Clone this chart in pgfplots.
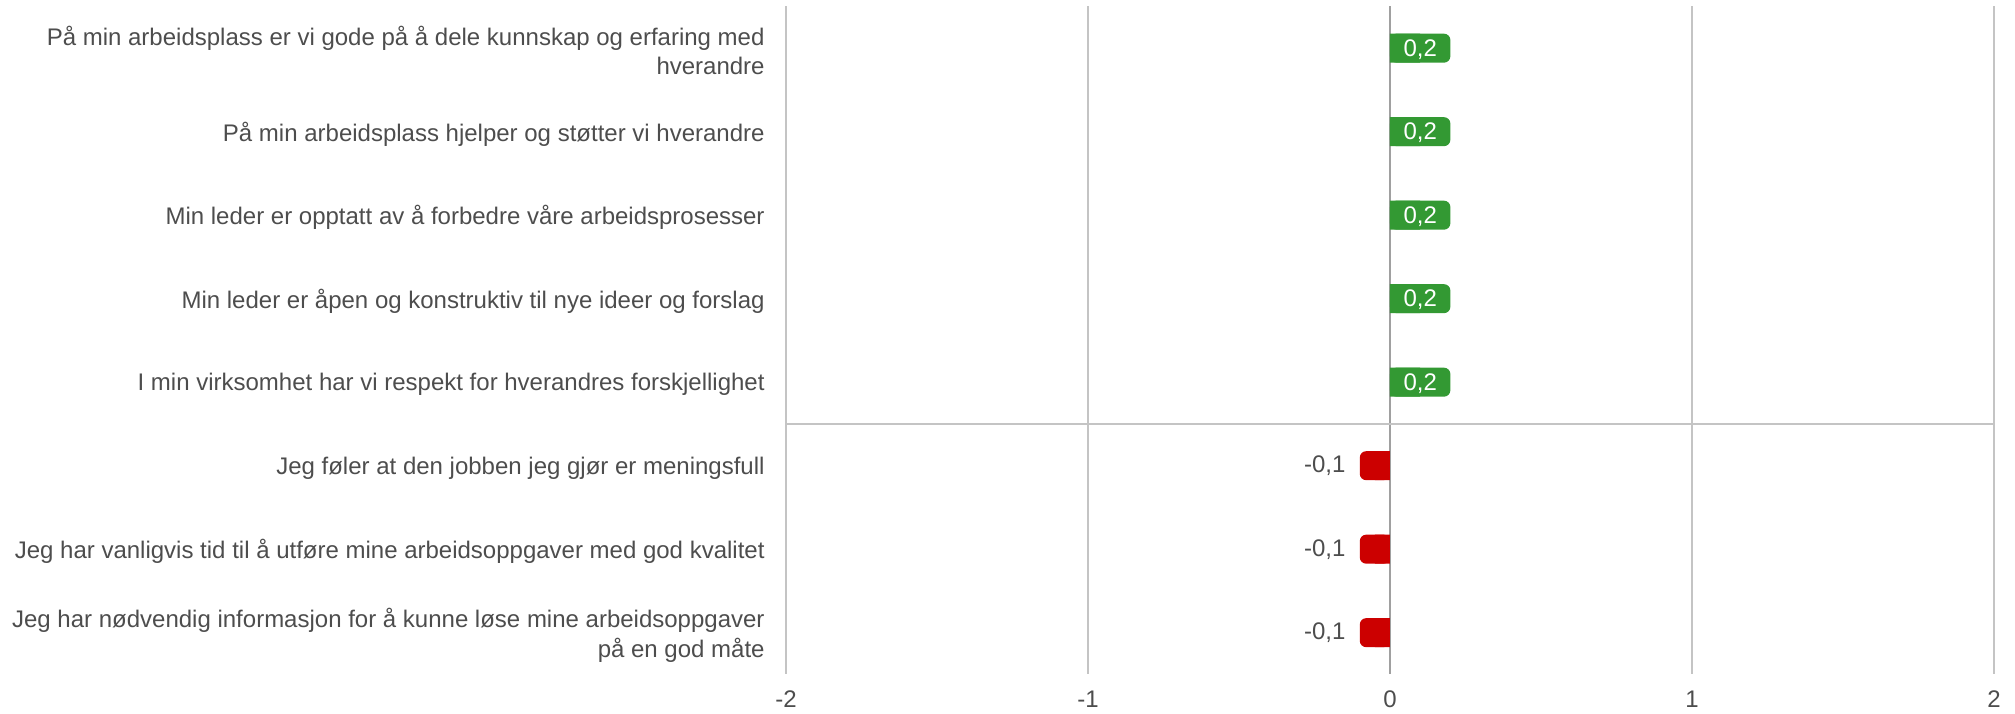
\documentclass[border=0pt]{standalone}
\usepackage{fontspec}
\setmainfont{Liberation Sans}
\usepackage{pgfplots}
\usepackage{pgfplotstable}
\pgfplotsset{compat=1.18}

\definecolor{barGreen}{HTML}{339933}
\definecolor{barRed}{HTML}{CC0000}
\definecolor{txtGrey}{HTML}{4D4D4D}
\definecolor{gridGrey}{HTML}{C4C4C4}
\definecolor{zeroGrey}{HTML}{A0A0A0}

% rows 0..7 from top to bottom
\pgfplotstableread{
y x lbl
0 0.2 0,2
1 0.2 0,2
2 0.2 0,2
3 0.2 0,2
4 0.2 0,2
}\pos
% inner half of the green bars: square end at the zero line, label in the middle
\pgfplotstableread{
y x lbl
0 0.1 0,2
1 0.1 0,2
2 0.1 0,2
3 0.1 0,2
4 0.1 0,2
}\poshalf
\pgfplotstableread{
y x lbl
5 -0.1 -0,1
6 -0.1 -0,1
7 -0.1 -0,1
}\negv
\pgfplotstableread{
y x lbl
5 -0.05 -0,1
6 -0.05 -0,1
7 -0.05 -0,1
}\neghalf

\begin{document}
\begin{tikzpicture}
\useasboundingbox (-393pt,-19.3pt) rectangle (614.5pt,337.2pt);
\begin{axis}[
    at={(0,0)}, anchor=south west,
    scale only axis,
    width=604pt, height=334pt,
    xmin=-2, xmax=2,
    ymin=-0.5, ymax=7.5,
    y dir=reverse,
    axis line style={draw=none},
    major tick length=0pt,
    xtick={-2,-1,1,2},
    xticklabels={-2,-1,1,2},
    extra x ticks={0},
    extra x tick labels={0},
    extra x tick style={grid=major, major grid style={zeroGrey, line width=1.4pt}},
    xmajorgrids,
    major grid style={gridGrey, line width=0.7pt},
    ytick={0,...,7},
    yticklabels={
        {På min arbeidsplass er vi gode på å dele kunnskap og erfaring med\\hverandre},
        {På min arbeidsplass hjelper og støtter vi hverandre},
        {Min leder er opptatt av å forbedre våre arbeidsprosesser},
        {Min leder er åpen og konstruktiv til nye ideer og forslag},
        {I min virksomhet har vi respekt for hverandres forskjellighet},
        {Jeg føler at den jobben jeg gjør er meningsfull},
        {Jeg har vanligvis tid til å utføre mine arbeidsoppgaver med god kvalitet},
        {Jeg har nødvendig informasjon for å kunne løse mine arbeidsoppgaver\\på en god måte}},
    yticklabel style={anchor=east, align=right, inner sep=0pt, xshift=-10.5pt, yshift=-1.2pt,
        text=txtGrey, font=\fontsize{12}{14.8}\selectfont},
    xticklabel style={anchor=north, inner sep=0pt, yshift=-8pt,
        text=txtGrey, font=\fontsize{12}{14}\selectfont},
    extra y ticks={4.5},
    extra y tick labels={},
    extra y tick style={grid=major, major grid style={gridGrey, line width=0.9pt}},
    xbar, bar width=14.5pt,
    point meta=explicit symbolic,
    clip=false,
]
\addplot[xbar, bar shift=0pt, fill=barGreen, draw=none, rounded corners=3.2pt]
    table[x=x, y=y, meta=lbl] {\pos};
\addplot[xbar, bar shift=0pt, fill=barGreen, draw=none,
    nodes near coords,
    every node near coord/.append style={anchor=center, text=white, yshift=-0.6pt,
        font=\fontsize{12}{14}\selectfont}]
    table[x=x, y=y, meta=lbl] {\poshalf};
\addplot[xbar, bar shift=0pt, fill=barRed, draw=none, rounded corners=3.2pt,
    nodes near coords,
    every node near coord/.append style={anchor=east, inner sep=0pt, xshift=-7pt,
        text=txtGrey, font=\fontsize{12}{14}\selectfont}]
    table[x=x, y=y, meta=lbl] {\negv};
\addplot[xbar, bar shift=0pt, fill=barRed, draw=none]
    table[x=x, y=y, meta=lbl] {\neghalf};
\end{axis}
\end{tikzpicture}
\end{document}
